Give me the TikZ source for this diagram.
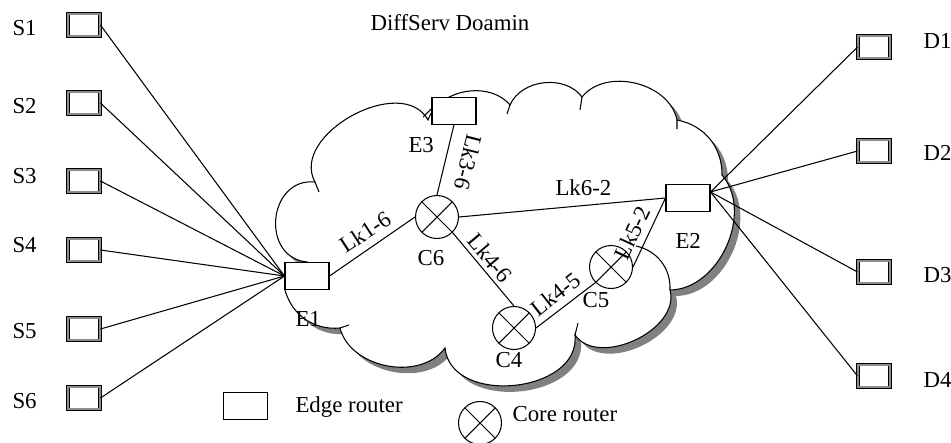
\documentclass[tikz,border=0pt]{standalone}
\usepackage{fontspec}
\setmainfont{Liberation Serif}
\newcommand{\dsCloud}{(307,262) to[bend left=90,looseness=1.5] (315,182)
  to[bend left=90,looseness=1.07] (428,120) to[bend left=60] (510,105)
  to[bend left=60] (582,97) to[bend left=65] (677,120) to[bend left=40] (722,175)
  to[bend left=65] (670,290) to[bend left=80] (575,335)
  to[bend left=90,looseness=1.15] (445,348) to[bend left=65] (340,328)
  to[bend left=40] (285,290) -- cycle}

\begin{document}
\begin{tikzpicture}[x=0.02cm,y=-0.02cm,line width=0.6pt,
  font=\fontsize{13}{15}\selectfont,
  edg/.style={draw,rectangle,fill=white,inner sep=0pt,minimum width=0.88cm,minimum height=0.53cm},
  cor/.style={draw,circle,fill=white,inner sep=0pt,minimum size=0.86cm,
    path picture={\draw (path picture bounding box.south west) -- (path picture bounding box.north east)
      (path picture bounding box.north west) -- (path picture bounding box.south east);}},
  hst/.style={draw,rectangle,double=black!45,double distance=0.9pt,line width=0.5pt,
    inner sep=0pt,minimum width=0.64cm,minimum height=0.45cm},
  lbl/.style={inner sep=0pt,anchor=base west},
  lk/.style={inner sep=0pt}]
\useasboundingbox (0,0) rectangle (951,443);
\fill[black!50,shift={(6,6)}] \dsCloud;
\draw[fill=white] \dsCloud;
\draw (670,290) to[bend right=40] (636,246);
\draw (315,182) -- (319,192) (423,117) -- (433,107) (510,105) -- (507,114)
  (582,97) -- (580,110) (677,120) -- (677,129) (575,335) -- (578,323) (340,328) -- (349,325);
\node[lbl] (ttl) at (370,30) {DiffServ Doamin};
\foreach \i/\y/\b in {1/25/35,2/103/113,3/181/183,4/250/252,5/329/338,6/398/408}{
  \node[hst] (S\i) at (84,\y) {};
  \node[lbl] (tS\i) at (12,\b) {S\i};
}
\foreach \i/\y/\b in {1/47/48,2/151/160,3/272/282,4/376/387}{
  \node[hst] (D\i) at (874,\y) {};
  \node[lbl] (tD\i) at (923,\b) {D\i};
}
\node[edg] (E1) at (307,276) {};
\node[edg] (E2) at (688,198) {};
\node[edg] (E3) at (454,111) {};
\node[cor] (C6) at (437,217) {};
\node[cor] (C4) at (514,328) {};
\node[cor] (C5) at (611,267) {};
\node[lbl] (tE1) at (295,326) {E1};
\node[lbl] (tE2) at (675,248) {E2};
\node[lbl] (tE3) at (408,152) {E3};
\node[lbl] (tC6) at (417,265) {C6};
\node[lbl] (tC4) at (495,367) {C4};
\node[lbl] (tC5) at (582,307) {C5};
\foreach \i in {1,...,6} \draw (S\i.east) -- (E1.west);
\foreach \i in {1,...,4} \draw (D\i.west) -- (E2.15);
\draw (E1.east) -- (C6.west);
\draw (E3.south) -- (C6.north);
\draw (C6.east) -- (E2.west);
\draw (C6.-45) -- (C4.north);
\draw (C4.east) -- (C5.225);
\draw (C5.east) -- (E2.west);
\node[lk,rotate=33] (l16) at (365,232) {Lk1-6};
\node[lk,rotate=-104] (l36) at (468,162) {Lk3-6};
\node[lbl] (l62) at (555,195) {Lk6-2};
\node[lk,rotate=-50] (l46) at (490,258) {Lk4-6};
\node[lk,rotate=38] (l45) at (556,294) {Lk4-5};
\node[lk,rotate=65] (l52) at (632,233) {Lk5-2};
\node[edg] (lgE) at (245.5,406) {};
\node[lbl] (tlgE) at (295,412) {Edge router};
\node[cor] (lgC) at (480,423) {};
\node[lbl] (tlgC) at (512,421) {Core router};
\end{tikzpicture}
\end{document}
